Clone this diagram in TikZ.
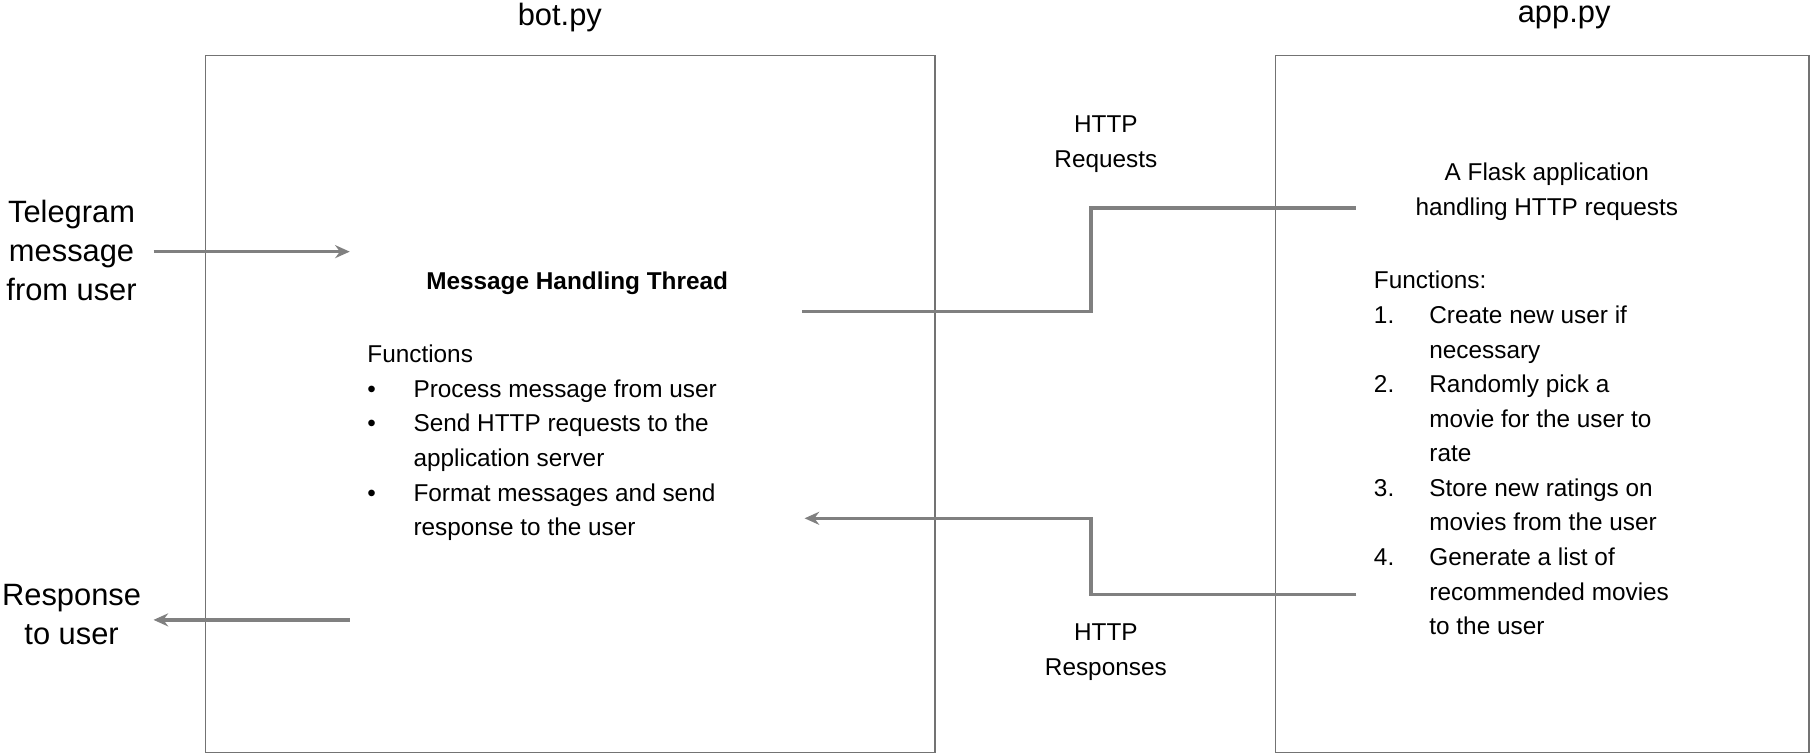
\documentclass[tikz,border=0pt]{standalone}
\usepackage{fontspec}
\setmainfont{Liberation Sans}
\usetikzlibrary{arrows.meta,positioning}
\tikzset{
  module/.style = {draw=black!55, line width=1pt},
  title/.style = {font=\fontsize{19}{23}\selectfont},
  side/.style = {font=\fontsize{19}{24}\selectfont, align=center, inner sep=0pt},
  body/.style = {font=\fontsize{15}{21.3}\selectfont, inner sep=0pt},
  link/.style = {draw=black!50, line width=2.2pt},
  flow/.style = {link, -{Stealth[length=9pt,width=8pt]}},
}
\begin{document}
\begin{tikzpicture}[x=0.025cm, y=-0.025cm]
\useasboundingbox (0,0) rectangle (1568,653);

% the two programs
\draw[module] (178,48) rectangle (810,652);
\draw[module] (1105,48) rectangle (1567,652);
\node[title] (bot) at (485,15) {bot.py};
\node[title] (app) at (1355,15) {app.py};

% user side
\node[side] (tele) at (62,217) {Telegram\\message\\from user};
\node[side] (resp) at (62,532) {Response\\to user};
\coordinate (inL) at (133,218);
\coordinate (inR) at (303,218);
\coordinate (outR) at (303,537);
\coordinate (outL) at (133,537);
\draw[flow] (inL) -- (inR);
\draw[flow] (outR) -- (outL);

% bot.py
\node[body, font=\fontsize{15}{21.3}\selectfont\bfseries] (thread) at (500,245) {Message Handling Thread};
\node[body, anchor=north west] (botfun) at (318,293) {%
  \begin{tabular}{@{}p{1cm}@{}l@{}}
  \multicolumn{2}{@{}l}{Functions}\\
  • & Process message from user\\
  • & Send HTTP requests to the\\
    & application server\\
  • & Format messages and send\\
    & response to the user
  \end{tabular}};

% app.py
\node[body, align=center] (flask) at (1340,166) {A Flask application\\handling HTTP requests};
\node[body, anchor=north west] (appfun) at (1190,229) {%
  \begin{tabular}{@{}p{1.2cm}@{}l@{}}
  \multicolumn{2}{@{}l}{Functions:}\\
  1. & Create new user if\\
     & necessary\\
  2. & Randomly pick a\\
     & movie for the user to\\
     & rate\\
  3. & Store new ratings on\\
     & movies from the user\\
  4. & Generate a list of\\
     & recommended movies\\
     & to the user
  \end{tabular}};

% HTTP traffic
\node[body, align=center] (req) at (958,125) {HTTP\\Requests};
\node[body, align=center] (res) at (958,565) {HTTP\\Responses};
\coordinate (reqA) at (695,270);
\coordinate (reqB) at (1175,180);
\coordinate (resA) at (1175,515);
\coordinate (resB) at (697,449);
\draw[link] (reqA) -| (945,180) -- (reqB);
\draw[flow] (resA) -| (945,449) -- (resB);
\end{tikzpicture}
\end{document}
